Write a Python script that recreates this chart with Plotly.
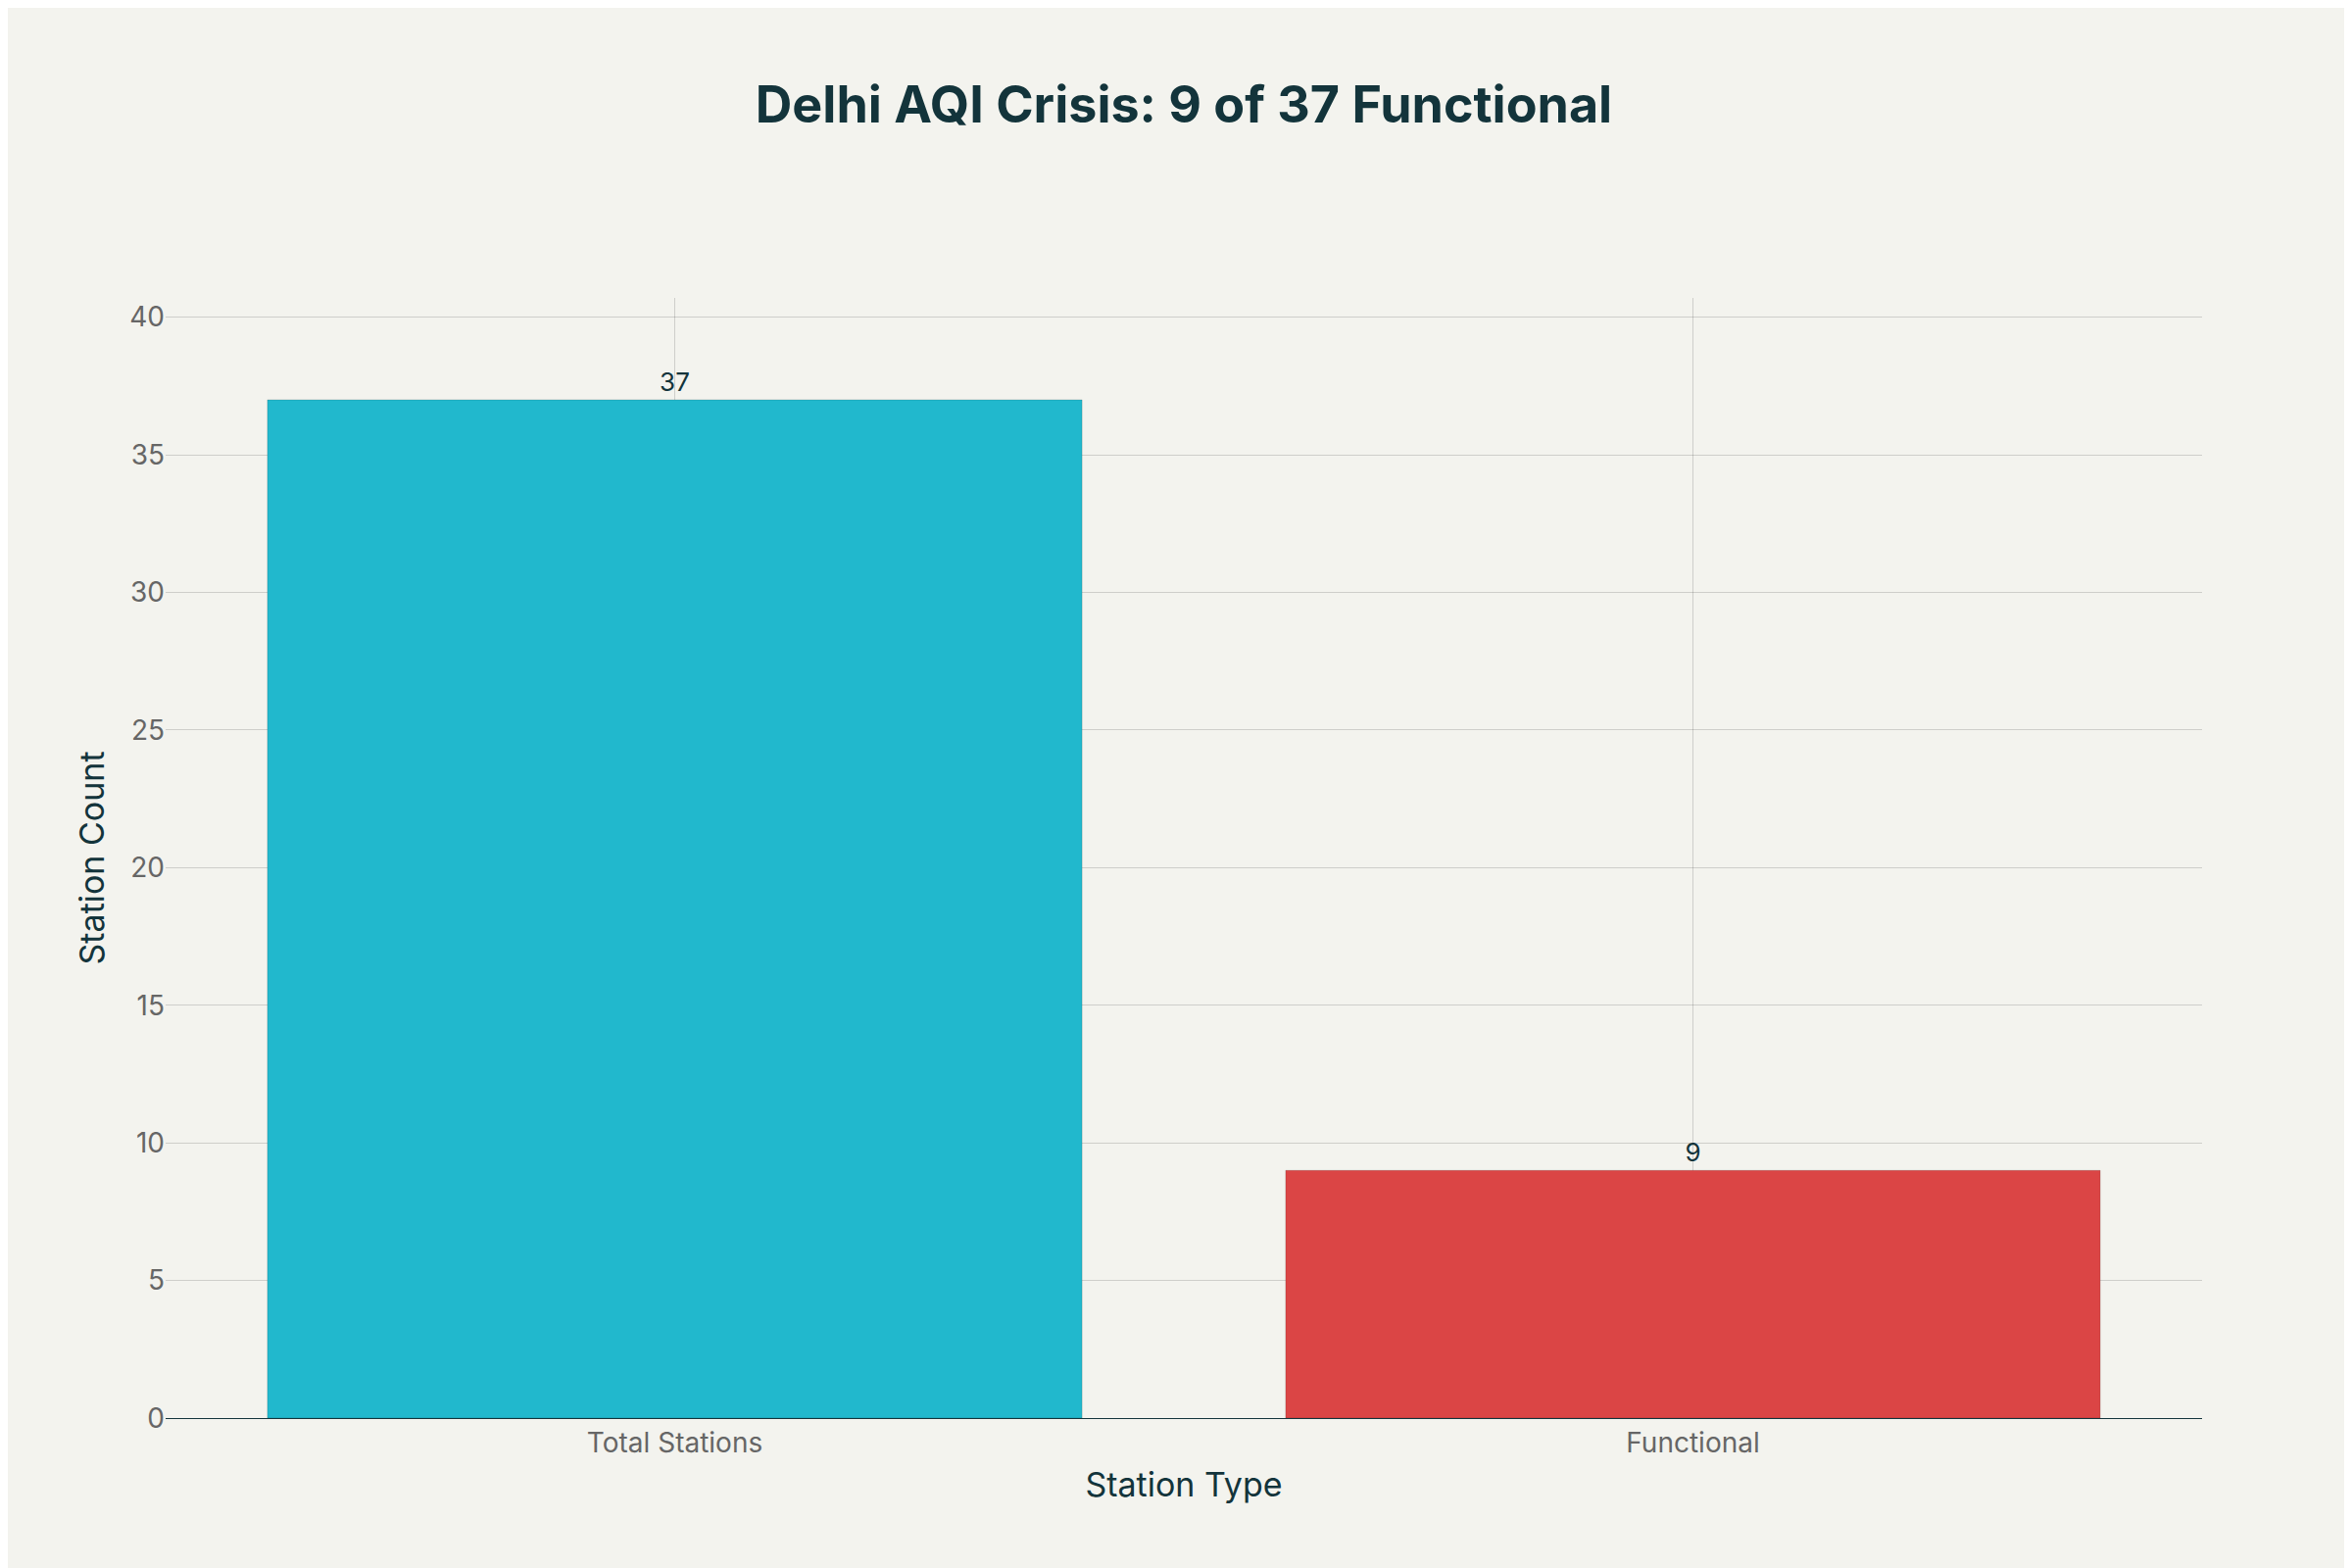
import plotly.graph_objects as go

categories = ["Total Stations", "Functional"]
values = [37, 9]
colors = ["#21B8CD", "#DB4545"]

fig = go.Figure(go.Bar(
    x=categories, y=values, marker_color=colors,
    marker_line_width=0.5, marker_line_color="rgba(0,0,0,0.3)",
    text=[str(v) for v in values], textposition="outside",
    textfont=dict(size=26, color="#13343B"), cliponaxis=False, width=0.8,
))
fig.update_layout(
    width=2400, height=1600,
    paper_bgcolor="#F3F3EE", plot_bgcolor="#F3F3EE",
    font=dict(family="Inter, sans-serif", color="#13343B"),
    title=dict(text="<b>Delhi AQI Crisis: 9 of 37 Functional</b>", x=0.5, y=0.938,
               xanchor="center", yanchor="middle", font=dict(size=52, color="#13343B")),
    margin=dict(l=161, r=161, t=296, b=161),
    showlegend=False,
)
fig.update_xaxes(title=dict(text="Station Type", font=dict(size=34)),
                 tickfont=dict(size=28, color="#666"), showgrid=True,
                 gridcolor="rgba(0,0,0,0.15)", showline=True, linecolor="#13343B")
fig.update_yaxes(title=dict(text="Station Count", font=dict(size=34)),
                 tickfont=dict(size=28, color="#666"), range=[0, 40.7], dtick=5,
                 gridcolor="rgba(0,0,0,0.15)", zeroline=False)
fig.write_html("out.html")
